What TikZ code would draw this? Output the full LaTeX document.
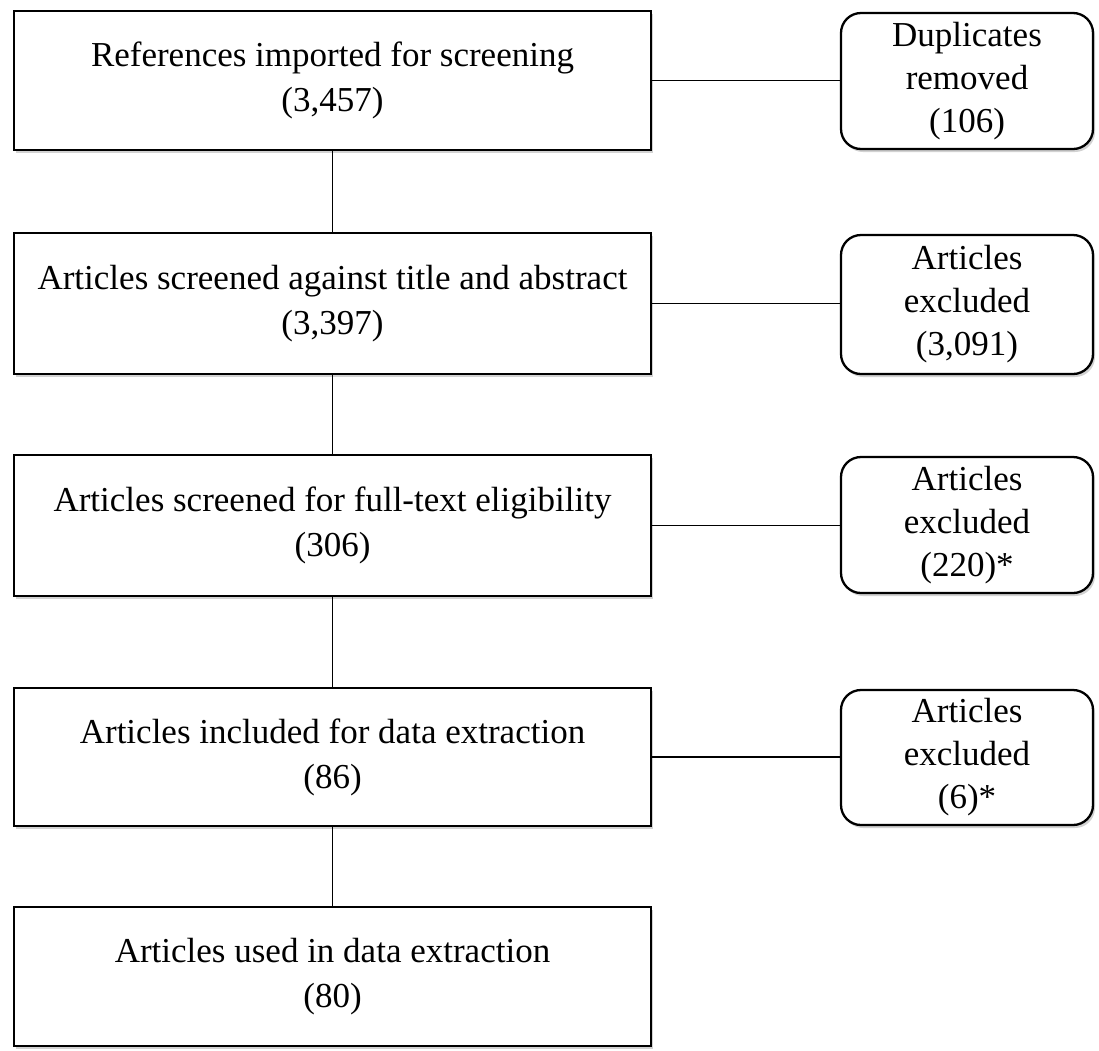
\documentclass[tikz,border=0pt]{standalone}
\usepackage{fontspec}
\setmainfont{Liberation Serif}
\usetikzlibrary{shadows}
\begin{document}
\begin{tikzpicture}[x=1pt,y=-1pt,
  boxshadow/.style={drop shadow={shadow xshift=2pt,shadow yshift=-3pt,opacity=0.25,fill=black!70}},
  mainbox/.style={draw=black,line width=2.3pt,fill=white,rectangle,minimum width=637pt,align=center,inner sep=0pt,
    font=\fontsize{35}{45}\selectfont,boxshadow},
  sidebox/.style={draw=black,line width=2.3pt,fill=white,rectangle,rounded corners=20pt,minimum width=252pt,align=center,inner sep=0pt,
    font=\fontsize{35}{43}\selectfont,boxshadow},
  link/.style={draw=black,line width=1.8pt}]
\useasboundingbox (0,0) rectangle (1099,1050);
\fill[white] (0,0) rectangle (1099,1050);
% main column
\node[mainbox,minimum height=139pt] (b1) at (332.5,80.5) {References imported for screening\\(3,457)};
\node[mainbox,minimum height=141pt] (b2) at (332.5,303.5) {Articles screened against title and abstract\\(3,397)};
\node[mainbox,minimum height=141pt] (b3) at (332.5,525.5) {Articles screened for full-text eligibility\\(306)};
\node[mainbox,minimum height=138pt] (b4) at (332.5,757) {Articles included for data extraction\\(86)};
\node[mainbox,minimum height=139pt] (b5) at (332.5,976.5) {Articles used in data extraction\\(80)};
% side boxes
\node[sidebox,minimum height=136pt] (r1) at (967,81) {Duplicates\\removed\\(106)};
\node[sidebox,minimum height=139pt] (r2) at (967,304.5) {Articles\\excluded\\(3,091)};
\node[sidebox,minimum height=136pt] (r3) at (967,525) {Articles\\excluded\\(220)*};
\node[sidebox,minimum height=135pt] (r4) at (967,757.5) {Articles\\excluded\\(6)*};
% connectors
\draw[link] (b1.south) -- (b2.north);
\draw[link] (b2.south) -- (b3.north);
\draw[link] (b3.south) -- (b4.north);
\draw[link] (b4.south) -- (b5.north);
\draw[link] (b1.east) -- (b1.east -| r1.west);
\draw[link] (b2.east) -- (b2.east -| r2.west);
\draw[link] (b3.east) -- (b3.east -| r3.west);
\draw[link] (b4.east) -- (b4.east -| r4.west);
\end{tikzpicture}
\end{document}
